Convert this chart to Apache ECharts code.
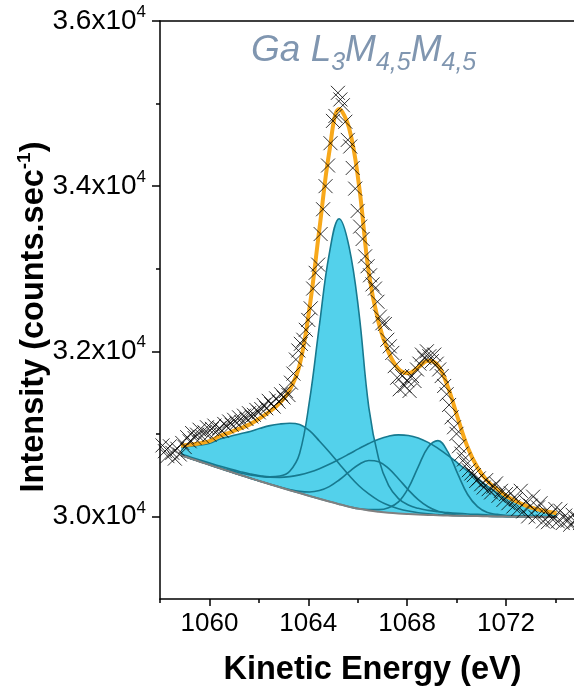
<!DOCTYPE html>
<html><head><meta charset="utf-8">
<script src="https://cdn.jsdelivr.net/npm/echarts@6/dist/echarts.min.js"></script>
<style>html,body{margin:0;padding:0;background:#fff}#c{width:574px;height:693px}</style>
</head><body><div id="c"></div>
<script>
const FONT = '"Liberation Sans", Arial, sans-serif';

// fit grid (kinetic energy, eV)
const energyGrid = [1058.85,1059.25,1059.65,1060.05,1060.45,1060.85,1061.25,1061.65,1062.05,1062.45,1062.85,1063.25,1063.65,1064.05,1064.45,1064.85,1065.25,1065.65,1066.05,1066.45,1066.85,1067.25,1067.65,1068.05,1068.45,1068.85,1069.25,1069.65,1070.05,1070.45,1070.85,1071.25,1071.65,1072.05,1072.45,1072.85,1073.25,1073.65,1074.05];
// background (counts/s)
const background = [30740,30700,30660,30620,30580,30541,30502,30464,30427,30390,30354,30318,30283,30248,30214,30180,30148,30118,30092,30072,30057,30045,30036,30029,30023,30018,30014,30011,30008,30006,30004,30002,30000,29998,29997,29995,29994,29993,29992];
// component heights above background
const peak1063 = [100,150,205,270,360,430,500,565,640,710,765,810,830,790,700,600,490,380,280,200,135,90,58,36,22,13,8,4,2,1,0,0,0,0,0,0,0,0,0];
const peak1065 = [16,18,20,23,27,32,40,50,65,90,135,230,480,1150,2100,3000,3458,3150,2380,1250,640,330,180,110,75,55,43,35,29,24,21,18,16,14,12,11,10,9,8];
const peak1067 = [0,0,0,0,0,0,0,0,0,0,3,8,20,48,99,181,293,421,537,606,606,537,421,293,181,99,48,20,8,3,0,0,0,0,0,0,0,0,0];
const peak1069 = [0,0,0,0,0,0,0,0,0,0,0,0,0,0,0,0,0,0,0,10,25,60,140,314,578,821,904,770,508,260,115,45,25,10,4,1,0,0,0];
const peak1068 = [1,2,3,6,10,16,25,39,58,84,119,164,220,287,364,451,544,638,729,811,879,927,952,952,927,879,811,729,638,544,451,364,287,220,164,119,84,58,39];
// total fit envelope
const envelope = [30857,30870,30888,30919,30977,31019,31067,31118,31190,31274,31376,31530,31833,32523,33477,34412,34933,34707,34018,32949,32342,31989,31787,31734,31806,31885,31828,31569,31193,30838,30591,30429,30328,30242,30177,30126,30088,30060,30039];

// measured data
const dataEnergy = [1058.1,1058.2,1058.3,1058.4,1058.5,1058.6,1058.7,1058.8,1058.9,1059.0,
1059.1,1059.2,1059.3,1059.4,1059.5,1059.6,1059.7,1059.8,1059.9,1060.0,
1060.1,1060.2,1060.3,1060.4,1060.5,1060.6,1060.7,1060.8,1060.9,1061.0,
1061.1,1061.2,1061.3,1061.4,1061.5,1061.6,1061.7,1061.8,1061.9,1062.0,
1062.1,1062.2,1062.3,1062.4,1062.5,1062.6,1062.7,1062.8,1062.9,1063.0,
1063.1,1063.2,1063.3,1063.4,1063.5,1063.6,1063.7,1063.8,1063.9,1064.0,
1064.1,1064.2,1064.3,1064.4,1064.5,1064.6,1064.7,1064.8,1064.9,1065.0,
1065.1,1065.2,1065.3,1065.4,1065.5,1065.6,1065.7,1065.8,1065.9,1066.0,
1066.1,1066.2,1066.3,1066.4,1066.5,1066.6,1066.7,1066.8,1066.9,1067.0,
1067.1,1067.2,1067.3,1067.4,1067.5,1067.6,1067.7,1067.8,1067.9,1068.0,
1068.1,1068.2,1068.3,1068.4,1068.5,1068.6,1068.7,1068.8,1068.9,1069.0,
1069.1,1069.2,1069.3,1069.4,1069.5,1069.6,1069.7,1069.8,1069.9,1070.0,
1070.1,1070.2,1070.3,1070.4,1070.5,1070.6,1070.7,1070.8,1070.9,1071.0,
1071.1,1071.2,1071.3,1071.4,1071.5,1071.6,1071.7,1071.8,1071.9,1072.0,
1072.1,1072.2,1072.3,1072.4,1072.5,1072.6,1072.7,1072.8,1072.9,1073.0,
1073.1,1073.2,1073.3,1073.4,1073.5,1073.6,1073.7,1073.8,1073.9,1074.0,
1074.1,1074.2,1074.3,1074.4,1074.5,1074.6,1074.7,1074.8,1074.9,1075.0];
const dataCounts = [30860,30790,30730,30850,30770,30700,30820,30750,30890,30840,
30960,30910,31010,30950,30990,31050,30970,31020,31080,30990,
31060,31100,31030,31070,31040,31120,31090,31150,31110,31170,
31130,31200,31140,31220,31180,31250,31210,31230,31290,31260,
31300,31350,31310,31400,31360,31330,31430,31390,31480,31440,
31520,31470,31620,31730,31900,32010,32090,32140,32260,32380,
32520,32760,32950,33050,33420,33720,34000,34250,34520,34790,
34850,35130,35050,34980,34780,34560,34480,34220,33970,33700,
33510,33360,33150,33030,32920,32810,32760,32600,32420,32340,
32330,32140,32060,31980,31820,31680,31540,31700,31580,31650,
31520,31700,31640,31780,31850,31960,31920,32000,31940,31880,
31960,31850,31780,31700,31580,31480,31350,31200,31080,31000,
30850,30760,30690,30630,30560,30520,30500,30430,30460,30390,
30350,30440,30330,30290,30360,30400,30250,30310,30200,30270,
30160,30280,30120,30210,30090,30310,30060,30180,30000,30130,
30240,29990,30110,30160,29940,30060,29930,30020,29960,30090,
29940,30070,29920,30010,29950,29900,30020,29940,29980,29920];

const xTickValues = [1060, 1064, 1068, 1072];
const xMinorTicks = [1058, 1062, 1066, 1070, 1074];
const yTickValues = [30000, 32000, 34000, 36000];
const yMinorTicks = [31000, 33000, 35000];

function pairs(xs, ys) { return xs.map(function (x, i) { return [x, ys[i]]; }); }
// value first, energy second: lets the stack act on the intensity dimension
function vpairs(xs, ys) { return xs.map(function (x, i) { return [ys[i], x]; }); }

const FILL = '#53d1eb', EDGE = '#17798f', ORANGE = '#f7a81b', AX = '#000';
const drawOrder = [peak1065, peak1068, peak1063, peak1067, peak1069];
const series = [];
drawOrder.forEach(function (c, i) {
  series.push({ type: 'line', stack: 'c' + i, data: vpairs(energyGrid, background), encode: { x: 1, y: 0 },
    smooth: 0.4, symbol: 'none', lineStyle: { opacity: 0 }, silent: true, z: 2 });
  series.push({ type: 'line', stack: 'c' + i, data: vpairs(energyGrid, c), encode: { x: 1, y: 0 },
    smooth: 0.4, symbol: 'none', lineStyle: { color: EDGE, width: 1.6 },
    areaStyle: { color: FILL, opacity: 1 }, silent: true, z: 2 });
});
series.push({ type: 'line', data: pairs(energyGrid, background), smooth: 0.4, symbol: 'none',
  lineStyle: { color: '#808080', width: 2 }, z: 3 });
series.push({ type: 'line', data: pairs(energyGrid, envelope), smooth: 0.4, symbol: 'none',
  lineStyle: { color: ORANGE, width: 4 }, z: 4 });
series.push({ type: 'scatter', data: pairs(dataEnergy, dataCounts), symbol: 'path://M0,0L10,10M10,0L0,10', symbolSize: 14,
  itemStyle: { color: 'rgba(0,0,0,0)', borderColor: '#000', borderWidth: 1 }, z: 5 });

const XMIN = 1058, XMAX = 1075.2, YMIN = 29000, YMAX = 36000;
const axLine = { lineStyle: { color: AX, width: 1.5 } };
const TITLE_C = '#8096b0';

const option = {
  animation: false,
  backgroundColor: '#fff',
  title: {
    text: '{m|Ga L}{s|3}{m|M}{s|4,5}{m|M}{s|4,5}',
    left: 251, top: 29, padding: 0,
    textStyle: { fontWeight: 'normal', rich: {
      m: { fontSize: 37, fontStyle: 'italic', fontWeight: 'normal', color: TITLE_C, fontFamily: FONT, lineHeight: 44 },
      s: { fontSize: 25, fontStyle: 'italic', fontWeight: 'normal', color: TITLE_C, fontFamily: FONT, lineHeight: 44, padding: [25, 0, 0, 0] }
    } }
  },
  grid: { left: 160, top: 21, width: 425, height: 578, containLabel: false, outerBoundsMode: 'none' },
  xAxis: [
    { type: 'value', min: XMIN, max: XMAX, position: 'bottom', axisLine: axLine,
      axisTick: { customValues: xTickValues, length: 7, lineStyle: { color: AX, width: 1.5 } },
      axisLabel: { customValues: xTickValues, fontSize: 26, color: AX, fontFamily: FONT, margin: 12,
        formatter: function (v) { return String(v); } },
      splitLine: { show: false },
      name: 'Kinetic Energy (eV)', nameLocation: 'middle', nameGap: 55, nameMoveOverlap: false,
      nameTextStyle: { fontSize: 32.5, fontWeight: 'bold', color: AX, fontFamily: FONT } },
    { type: 'value', min: XMIN, max: XMAX, position: 'bottom', axisLine: { show: false },
      axisTick: { customValues: xMinorTicks, length: 4, lineStyle: { color: AX, width: 1.5 } },
      axisLabel: { show: false }, splitLine: { show: false } },
    { type: 'value', min: XMIN, max: XMAX, position: 'top', axisLine: axLine,
      axisTick: { show: false }, axisLabel: { show: false }, splitLine: { show: false } }
  ],
  yAxis: [
    { type: 'value', min: YMIN, max: YMAX, position: 'left', axisLine: axLine,
      axisTick: { customValues: yTickValues, length: 8, lineStyle: { color: AX, width: 1.5 } },
      axisLabel: { customValues: yTickValues, margin: 14,
        formatter: function (v) { return '{m|' + (v / 10000).toFixed(1) + 'x10}{s|4}'; },
        rich: {
          m: { fontSize: 28, color: AX, fontFamily: FONT },
          s: { fontSize: 17, color: AX, fontFamily: FONT, padding: [0, 0, 17, 0] }
        } },
      splitLine: { show: false },
      name: '{b|Intensity (counts.sec}{p|-1}{b|)}', nameLocation: 'middle', nameGap: 109, nameMoveOverlap: false,
      nameTextStyle: { padding: [0, 14, 0, 0], rich: {
        b: { fontSize: 32.5, fontWeight: 'bold', color: AX, fontFamily: FONT, lineHeight: 34 },
        p: { fontSize: 19, fontWeight: 'bold', color: AX, fontFamily: FONT, lineHeight: 34, padding: [0, 0, 18, 0] }
      } } },
    { type: 'value', min: YMIN, max: YMAX, position: 'left', axisLine: { show: false },
      axisTick: { customValues: yMinorTicks, length: 4, lineStyle: { color: AX, width: 1.5 } },
      axisLabel: { show: false }, splitLine: { show: false } }
  ],
  series: series
};

const chart = echarts.init(document.getElementById('c'), null, { renderer: 'canvas' });
chart.setOption(option);
</script>
</body></html>
